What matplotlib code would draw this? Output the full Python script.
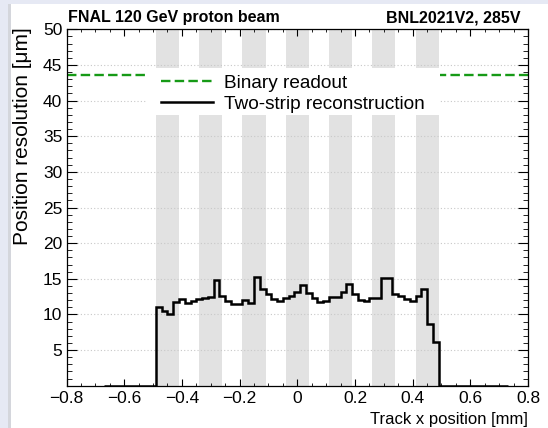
import matplotlib
matplotlib.use("Agg")
import matplotlib.pyplot as plt
from matplotlib.patches import Rectangle
from matplotlib.ticker import MultipleLocator
import numpy as np

plt.rcParams['font.family'] = ['Liberation Sans', 'DejaVu Sans']

# resolution histogram, 70 bins of 0.02 mm starting at -0.67 mm
x_low = -0.67
bin_width = 0.02
resolution = [0, 0, 0, 0, 0, 0, 0, 0, 0,
              11.0, 10.5, 10.0, 11.8, 12.2, 11.6, 11.9, 12.1, 12.3, 12.5,
              14.8, 12.6, 11.9, 11.4, 11.5, 12.0, 11.6, 15.3, 13.5, 12.8,
              12.2, 11.9, 12.3, 12.6, 13.1, 14.1, 13.0, 12.3, 11.7, 11.9,
              12.5, 12.4, 13.2, 14.2, 12.9, 12.0, 11.9, 12.3, 12.3, 15.1,
              15.1, 12.9, 12.6, 12.2, 11.9, 12.6, 13.5, 8.7, 6.1,
              0, 0, 0, 0, 0, 0, 0, 0, 0, 0, 0, 0]

# metal strip positions (shaded) [mm]
strip_centers = [-0.45, -0.30, -0.15, 0.0, 0.15, 0.30, 0.45]
strip_width = 0.08

binary_readout = 43.6

edges = x_low + bin_width*np.arange(len(resolution)+1)

fig = plt.figure(figsize=(5.48, 4.28), dpi=100)
fig.patch.set_facecolor('white')
# screenshot-like frame on the left and top
fig.patches.append(Rectangle((0, 0), 8/548, 1, transform=fig.transFigure,
                             fc='#e6e9f4', ec='none', zorder=-5))
fig.patches.append(Rectangle((0, 1-4/428), 1, 4/428, transform=fig.transFigure,
                             fc='#e6e9f4', ec='none', zorder=-5))
fig.patches.append(Rectangle((8/548, 0), 3/548, 1-4/428, transform=fig.transFigure,
                             fc='#d4d6dc', ec='none', zorder=-5))

ax = fig.add_axes([66.5/548, 1-385.7/428, 461.5/548, 356.4/428])

for c in strip_centers:
    ax.axvspan(c-strip_width/2, c+strip_width/2, color='#e2e2e2', lw=0, zorder=0)

ax.axhline(binary_readout, color='#169a16', lw=1.7, ls=(0, (4.0, 1.8)),
           zorder=2, label='Binary readout')
ax.stairs(resolution, edges, baseline=None, color='black', lw=1.8, zorder=3,
          label='Two-strip reconstruction')

# white legend box
ax.add_patch(Rectangle((0.172, 0.760), 0.637, 0.131, transform=ax.transAxes,
                       fc='white', ec='none', zorder=2.5))
leg = ax.legend(loc='upper left', bbox_to_anchor=(0.205, 0.873), frameon=False,
                fontsize=13.7, handlelength=2.75, handletextpad=0.55,
                borderpad=0, borderaxespad=0, labelspacing=0.2)
leg.set_zorder(4)

ax.set_xlim(-0.8, 0.8)
ax.set_ylim(0, 50)
ax.set_yticks(np.arange(5, 55, 5))
ax.xaxis.set_major_locator(MultipleLocator(0.2))
ax.xaxis.set_minor_locator(MultipleLocator(0.05))
ax.yaxis.set_minor_locator(MultipleLocator(1))
ax.xaxis.set_major_formatter(
    lambda v, p: '0' if abs(v) < 1e-9 else ('%g' % v).replace('-', '\u2212'))
ax.set_axisbelow(True)
ax.grid(axis='y', which='major', color='#c8c8c8', ls=(0, (1, 2)), lw=0.8)

ax.tick_params(which='both', direction='in', top=True, right=True, labelsize=12.5)
ax.tick_params(axis='x', which='major', length=5, pad=4)
ax.tick_params(axis='x', which='minor', length=2.5)
ax.tick_params(axis='y', which='major', length=7, pad=3)
ax.tick_params(axis='y', which='minor', length=3.5)
for s in ax.spines.values():
    s.set_linewidth(0.9)

ax.set_xlabel('Track x position [mm]', fontsize=12, ha='right')
ax.xaxis.set_label_coords(1.0, -0.075)
ax.set_ylabel('Position resolution [μm]', fontsize=15, ha='right')
ax.yaxis.set_label_coords(-0.075, 1.005)

ax.text(0.004, 1.012, 'FNAL 120 GeV proton beam', transform=ax.transAxes,
        ha='left', va='bottom', fontsize=11.5, weight='bold')
ax.text(0.983, 1.012, 'BNL2021V2, 285V', transform=ax.transAxes,
        ha='right', va='bottom', fontsize=11.5, weight='bold')

fig.savefig('out.png', dpi=100)
